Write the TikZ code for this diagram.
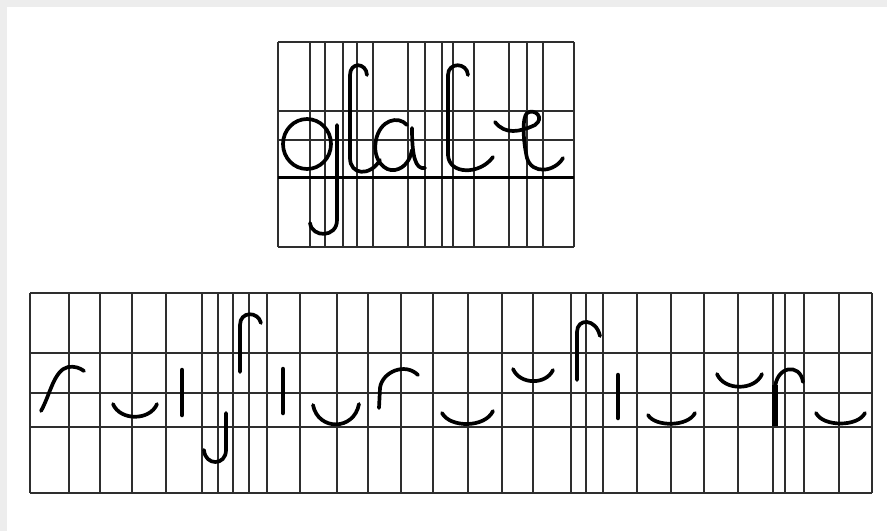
\documentclass[tikz,border=0pt]{standalone}
\begin{document}
\begin{tikzpicture}[x=1pt,y=-1pt,
  gridline/.style={line width=2.2pt, draw=black!82},
  pen/.style={line width=3.7pt, line cap=round, line join=round},
  bar/.style={line width=4.5pt, line cap=round}]
\useasboundingbox (0,0) rectangle (887,531);
\fill[black!7] (0,0) rectangle (887,531);
\fill[white] (7,7) rectangle (887,531);
% top grid
\foreach \x in {278,310,325,343,357,373,408,425,442,453,474,509,527,543,574}
  \draw[gridline] (\x,42) -- (\x,247);
\foreach \y in {42,111,140,247}
  \draw[gridline] (278,\y) -- (574,\y);
\draw[gridline, line width=3pt, draw=black] (278,177) -- (574,177);
% bottom grid
\foreach \x in {30,69,100,132,166,202,218,233,249,267,300,337,368,401,433,468,502,533,571,586,603,637,671,704,738,773,785,804,839,872}
  \draw[gridline] (\x,293) -- (\x,493);
\foreach \y in {293,353,393,427,493}
  \draw[gridline] (30,\y) -- (872,\y);
% top word
\draw[pen] (307,144) ellipse [x radius=24, y radius=25];
\draw[pen] (337,125) -- (337,220) .. controls (337,238) and (312,238) .. (310,223);
\draw[pen] (367,75) .. controls (366,62) and (350,62) .. (350,75) -- (350,158) .. controls (350,175) and (370,177) .. (380,160);
\draw[pen] (407,125) .. controls (398,115) and (380,120) .. (376,140) .. controls (372,160) and (385,172) .. (395,170) .. controls (405,168) and (410,160) .. (412,150);
\draw[pen] (412,128) .. controls (412,155) and (415,170) .. (425,168);
\draw[pen] (468,75) .. controls (467,62) and (448,62) .. (448,75) -- (448,155) .. controls (449,175) and (480,175) .. (493,157);
\draw[pen] (495,122) .. controls (505,135) and (520,132) .. (535,125) .. controls (545,118) and (535,108) .. (527,113) .. controls (522,118) and (523,140) .. (527,158) .. controls (532,175) and (555,172) .. (563,158);
% bottom strokes
\draw[pen] (41,411) .. controls (50,395) and (54,370) .. (68,367) .. controls (75,366) and (80,368) .. (84,371);
\draw[pen] (113,404) .. controls (120,421) and (150,421) .. (157,404);
\draw[bar] (182,370) -- (182,415);
\draw[pen] (226,413) -- (226,450) .. controls (226,466) and (205,466) .. (204,450);
\draw[pen] (240,372) -- (240,325) .. controls (240,311) and (258,311) .. (261,323);
\draw[bar] (283,369) -- (283,413);
\draw[pen] (313,405) .. controls (318,431) and (354,431) .. (359,404);
\draw[pen] (379,408) -- (380,388) .. controls (382,372) and (405,362) .. (418,375);
\draw[pen] (442,413) .. controls (450,428) and (485,428) .. (493,411);
\draw[pen] (513,369) .. controls (520,385) and (546,385) .. (553,370);
\draw[pen] (577,380) -- (577,332) .. controls (577,318) and (596,318) .. (600,336);
\draw[bar] (618,375) -- (618,418);
\draw[pen] (648,415) .. controls (655,427) and (688,427) .. (695,413);
\draw[pen] (717,374) .. controls (724,391) and (755,391) .. (762,374);
\draw[line width=6pt] (775,426) -- (775,385);
\draw[pen] (775,390) .. controls (775,366) and (800,362) .. (803,382);
\draw[pen] (816,413) .. controls (823,427) and (858,427) .. (865,413);
\end{tikzpicture}
\end{document}
